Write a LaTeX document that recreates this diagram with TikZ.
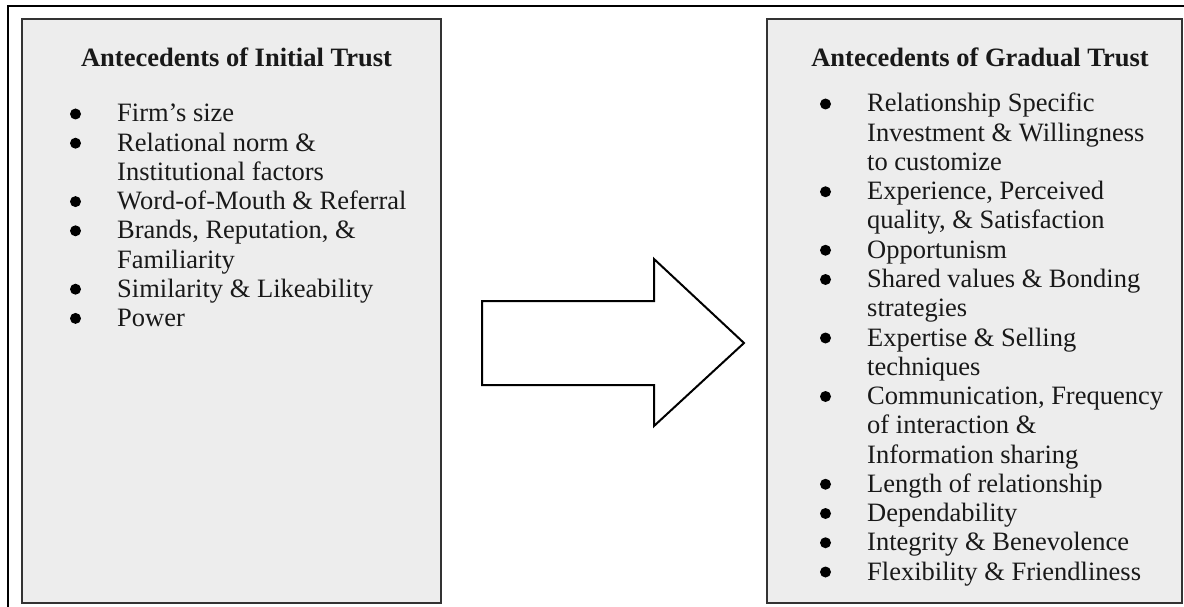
\documentclass[tikz,border=0pt]{standalone}
\usepackage{fontspec}
\setmainfont{Liberation Serif}
\begin{document}
\begin{tikzpicture}[x=1pt,y=-1pt,
  panel/.style={draw=black!80,line width=2.4pt,fill=black!7},
  frame/.style={draw=black,line width=2pt},
  bigarrow/.style={draw=black,line width=2pt,fill=white,line join=miter},
  heading/.style={anchor=base,inner sep=0pt,text=black!90,
    font=\fontsize{26.5}{29.2}\selectfont\bfseries},
  itemtext/.style={anchor=base west,inner sep=0pt,text=black!90,
    font=\fontsize{26.5}{29.2}\selectfont},
  dot/.style={circle,fill=black,inner sep=0pt,minimum size=11pt}]
\path[use as bounding box,clip] (0,0) rectangle (1184,607);

% outer frame, running past the page edge on the right and bottom
\draw[frame] (8,6) rectangle (1200,620);

% the two panels
\draw[panel] (22,19) rectangle (441,603);
\draw[panel] (767,19) rectangle (1182,603);

% block arrow between the panels
\draw[bigarrow] (482,301) -- (654,301) -- (654,259) -- (744,343)
  -- (654,426) -- (654,385) -- (482,385) -- cycle;

% left panel
\node[heading] (lt) at (236.5,67) {Antecedents of Initial Trust};
\node[itemtext] (l1) at (117,122.0) {Firm’s size};
\node[itemtext] (l2) at (117,151.2) {Relational norm \&};
\node[itemtext] (l3) at (117,180.4) {Institutional factors};
\node[itemtext] (l4) at (117,209.6) {Word-of-Mouth \& Referral};
\node[itemtext] (l5) at (117,238.8) {Brands, Reputation, \&};
\node[itemtext] (l6) at (117,268.0) {Familiarity};
\node[itemtext] (l7) at (117,297.2) {Similarity \& Likeability};
\node[itemtext] (l8) at (117,326.4) {Power};
\foreach \n/\y in {1/122.0,2/151.2,4/209.6,5/238.8,7/297.2,8/326.4}
  \node[dot] (lb\n) at (75.5,\y-8) {};

% right panel
\node[heading] (rt) at (980,67) {Antecedents of Gradual Trust};
\node[itemtext] (r1)  at (867,112.00) {Relationship Specific};
\node[itemtext] (r2)  at (867,141.25) {Investment \& Willingness};
\node[itemtext] (r3)  at (867,170.50) {to customize};
\node[itemtext] (r4)  at (867,199.75) {Experience, Perceived};
\node[itemtext] (r5)  at (867,229.00) {quality, \& Satisfaction};
\node[itemtext] (r6)  at (867,258.25) {Opportunism};
\node[itemtext] (r7)  at (867,287.50) {Shared values \& Bonding};
\node[itemtext] (r8)  at (867,316.75) {strategies};
\node[itemtext] (r9)  at (867,346.00) {Expertise \& Selling};
\node[itemtext] (r10) at (867,375.25) {techniques};
\node[itemtext] (r11) at (867,404.50) {Communication, Frequency};
\node[itemtext] (r12) at (867,433.75) {of interaction \&};
\node[itemtext] (r13) at (867,463.00) {Information sharing};
\node[itemtext] (r14) at (867,492.25) {Length of relationship};
\node[itemtext] (r15) at (867,521.50) {Dependability};
\node[itemtext] (r16) at (867,550.75) {Integrity \& Benevolence};
\node[itemtext] (r17) at (867,580.00) {Flexibility \& Friendliness};
\foreach \n/\y in {1/112.00,4/199.75,6/258.25,7/287.50,9/346.00,11/404.50,
                   14/492.25,15/521.50,16/550.75,17/580.00}
  \node[dot] (rb\n) at (825.5,\y-8) {};
\end{tikzpicture}
\end{document}
